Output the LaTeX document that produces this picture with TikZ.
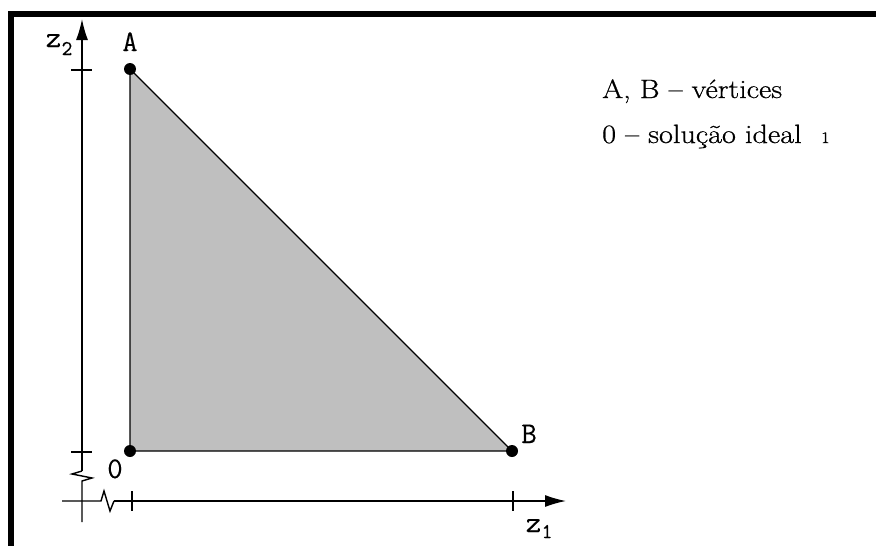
\documentclass[tikz,border=0pt]{standalone}
\usepackage{fontspec}
\newfontfamily\legfont{Latin Modern Roman}[FakeStretch=1.14,FakeBold=0.7]
\newfontfamily\labfont{Latin Modern Mono}[FakeBold=0.3]
\usetikzlibrary{arrows.meta}
\begin{document}
\begin{tikzpicture}[x=1pt,y=-1pt,
  axis/.style={line width=1.4pt},
  vdot/.style={circle,fill=black,inner sep=0pt,minimum size=12pt},
  lab/.style={font=\labfont\fontsize{30}{30}\selectfont,inner sep=0pt},
  sub/.style={font=\labfont\fontsize{21}{21}\selectfont,inner sep=0pt},
  txt/.style={font=\legfont\fontsize{26.5}{26.5}\selectfont,inner sep=0pt,anchor=base west},
  arr/.style={-{Latex[length=21pt,width=12pt]}}]
\useasboundingbox (0,0) rectangle (876,546);
\fill[white] (0,0) rectangle (876,546);
% frame
\draw[line width=5.5pt] (11,546) -- (11,14) -- (876,14);
% triangle
\coordinate (A) at (130,69);
\coordinate (O) at (130,451);
\coordinate (B) at (512,451);
\filldraw[fill=black!25,draw=black,line width=1.3pt] (A) -- (O) -- (B) -- cycle;
\node[vdot] (dA) at (A) {};
\node[vdot] (dO) at (O) {};
\node[vdot] (dB) at (B) {};
% y axis
\coordinate (ytop) at (82,19);
\coordinate (yz1) at (82,471);
\coordinate (yz2) at (82,481);
\coordinate (ybot) at (82,522);
\draw[axis,arr] (yz1) -- (ytop);
\draw[axis] (yz1) -- (72,474) -- (92,478) -- (yz2) -- (ybot);
\draw[axis] (71,70) -- (92,70);
\draw[axis] (71,452) -- (92,452);
% x axis
\coordinate (xl) at (62,501);
\coordinate (xz1) at (101,501);
\coordinate (xz2) at (114,501);
\coordinate (xtip) at (566,501);
\draw[axis] (xl) -- (xz1) -- (104,491) -- (110,511) -- (xz2);
\draw[axis,arr] (xz2) -- (xtip);
\draw[axis] (132,491) -- (132,511);
\draw[axis] (513,491) -- (513,511);
% labels
\node[lab,anchor=base] (lA) at (130,51) {A};
\node[lab,anchor=base] (lB) at (529,443) {B};
\node[lab,anchor=base] (l0) at (115,478) {0};
\node[lab,anchor=base] (lz2) at (53.5,47) {z};
\node[sub,anchor=base] (lz2s) at (67,55) {2};
\node[lab,anchor=base] (lz1) at (533.5,532) {z};
\node[sub,anchor=base] (lz1s) at (547,538) {1};
% legend
\node[txt] (t1) at (602,98) {A, B – vértices};
\node[txt] (t2) at (602,143) {0 – solução ideal};
\node[font=\legfont\fontsize{16}{16}\selectfont,inner sep=0pt,anchor=base west] (t3) at (821,143) {1};
\end{tikzpicture}
\end{document}
